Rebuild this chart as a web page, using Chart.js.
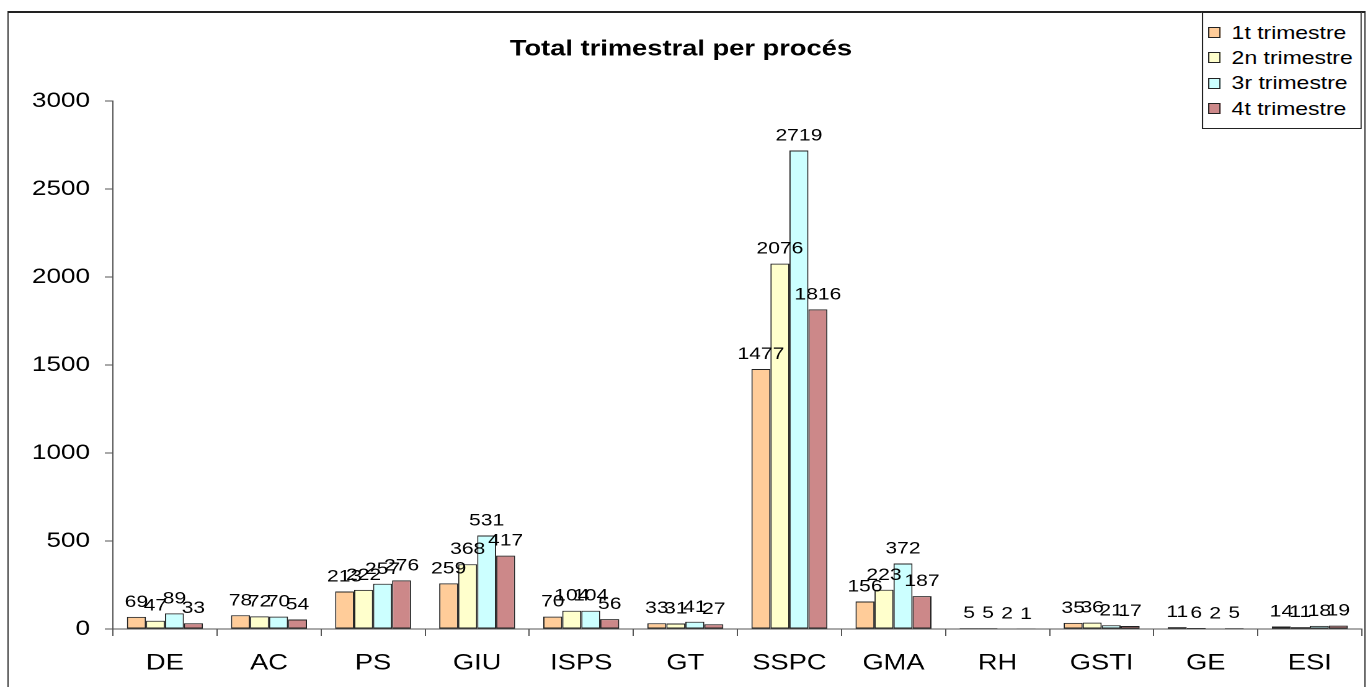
<!DOCTYPE html>
<html>
<head>
<meta charset="utf-8">
<title>Total trimestral per procés</title>
<script src="https://cdn.jsdelivr.net/npm/chart.js@4.4.1/dist/chart.umd.min.js"></script>
<style>
  html, body { margin: 0; padding: 0; background: #fff; overflow: hidden; width: 1368px; height: 687px; }
  /* the original is an Excel chart stretched sideways, so the whole stage is stretched too */
  #stage { position: absolute; left: 0; top: 0; width: 1103px; height: 687px; transform: scaleX(1.2403); transform-origin: 0 0; font-family: 'Liberation Sans', Arial, sans-serif; }
  #frame { position: absolute; left: 6px; top: 11px; width: 1095px; height: 720px; border: 1.5px solid #222; border-top-width: 2px; box-sizing: border-box; }
  #chart { position: absolute; left: 0; top: 0; }
  #legend { position: absolute; left: 969px; top: 12px; width: 129px; height: 117px; border: 1px solid #222; background: #fff; box-sizing: border-box; padding-top: 7px; }
  .row { height: 25.3px; display: flex; align-items: center; font-size: 18.5px; color: #000; white-space: nowrap; }
  .sw { width: 10px; height: 11px; border: 1px solid #222; box-sizing: border-box; margin-left: 4px; margin-right: 9px; flex: none; }
</style>
</head>
<body>
<div id="stage">
  <div id="frame"></div>
  <canvas id="chart" width="1103" height="687"></canvas>
  <div id="legend"></div>
</div>
<script>
const categories = ['DE', 'AC', 'PS', 'GIU', 'ISPS', 'GT', 'SSPC', 'GMA', 'RH', 'GSTI', 'GE', 'ESI']
const trimestre1 = [69, 78, 213, 259, 70, 33, 1477, 156, 5, 35, 11, 14]
const trimestre2 = [47, 72, 222, 368, 104, 31, 2076, 223, 5, 36, 6, 11]
const trimestre3 = [89, 70, 257, 531, 104, 41, 2719, 372, 2, 21, 2, 18]
const trimestre4 = [33, 54, 276, 417, 56, 27, 1816, 187, 1, 17, 5, 19]
const seriesLabels = ['1t trimestre', '2n trimestre', '3r trimestre', '4t trimestre']
const seriesColors = ['#FFCC99', '#FFFFCC', '#CCFFFF', '#CC8889']
const yMin = 0
const yMax = 3000
const yStep = 500

const FONT = "'Liberation Sans', Arial, sans-serif"

const valueLabels = {
  id: 'valueLabels',
  afterDatasetsDraw(chart) {
    const ctx = chart.ctx
    ctx.save()
    ctx.font = '17px ' + FONT
    ctx.fillStyle = '#000'
    ctx.textAlign = 'center'
    ctx.textBaseline = 'alphabetic'
    chart.data.datasets.forEach((ds, i) => {
      chart.getDatasetMeta(i).data.forEach((bar, j) => {
        ctx.fillText(String(ds.data[j]), bar.x, bar.y - 10)
      })
    })
    ctx.restore()
  }
}

const allSeries = [trimestre1, trimestre2, trimestre3, trimestre4]

const chart = new Chart(document.getElementById('chart'), {
  type: 'bar',
  data: {
    labels: categories,
    datasets: allSeries.map((values, i) => ({
      label: seriesLabels[i],
      data: values,
      backgroundColor: seriesColors[i],
      borderColor: '#222',
      borderWidth: 1,
      borderSkipped: false,
      categoryPercentage: 0.73,
      barPercentage: 1.0
    }))
  },
  options: {
    responsive: false,
    animation: false,
    devicePixelRatio: 2,
    layout: {
      padding: { left: 0, right: 5, top: 0, bottom: 0 }
    },
    plugins: {
      legend: { display: false },
      tooltip: { enabled: false },
      title: {
        display: true,
        text: 'Total trimestral per procés',
        color: '#000',
        font: { family: FONT, size: 22, weight: 'bold' },
        padding: { top: 36, bottom: 38.6 }
      }
    },
    scales: {
      x: {
        offset: true,
        grid: { offset: true, drawOnChartArea: false, drawTicks: true, tickLength: 7, color: '#555' },
        border: { color: '#555', width: 1 },
        ticks: { color: '#000', font: { family: FONT, size: 22 }, padding: 14, maxRotation: 0, autoSkip: false },
        afterFit(scale) { scale.height = 58 }
      },
      y: {
        min: yMin,
        max: yMax,
        grid: { drawOnChartArea: false, drawTicks: true, tickLength: 6.5, color: '#555' },
        border: { color: '#555', width: 1 },
        ticks: {
          stepSize: yStep,
          color: '#000',
          font: { family: FONT, size: 21 },
          padding: 12,
          callback: (value) => String(value)
        },
        afterFit(scale) { scale.width = 91 }
      }
    }
  },
  plugins: [valueLabels]
})

// legend built from the same series names and colours
const legendBox = document.getElementById('legend')
seriesLabels.forEach((name, i) => {
  const row = document.createElement('div')
  row.className = 'row'
  const sw = document.createElement('span')
  sw.className = 'sw'
  sw.style.background = seriesColors[i]
  const txt = document.createElement('span')
  txt.textContent = name
  row.appendChild(sw)
  row.appendChild(txt)
  legendBox.appendChild(row)
})
</script>
</body>
</html>
